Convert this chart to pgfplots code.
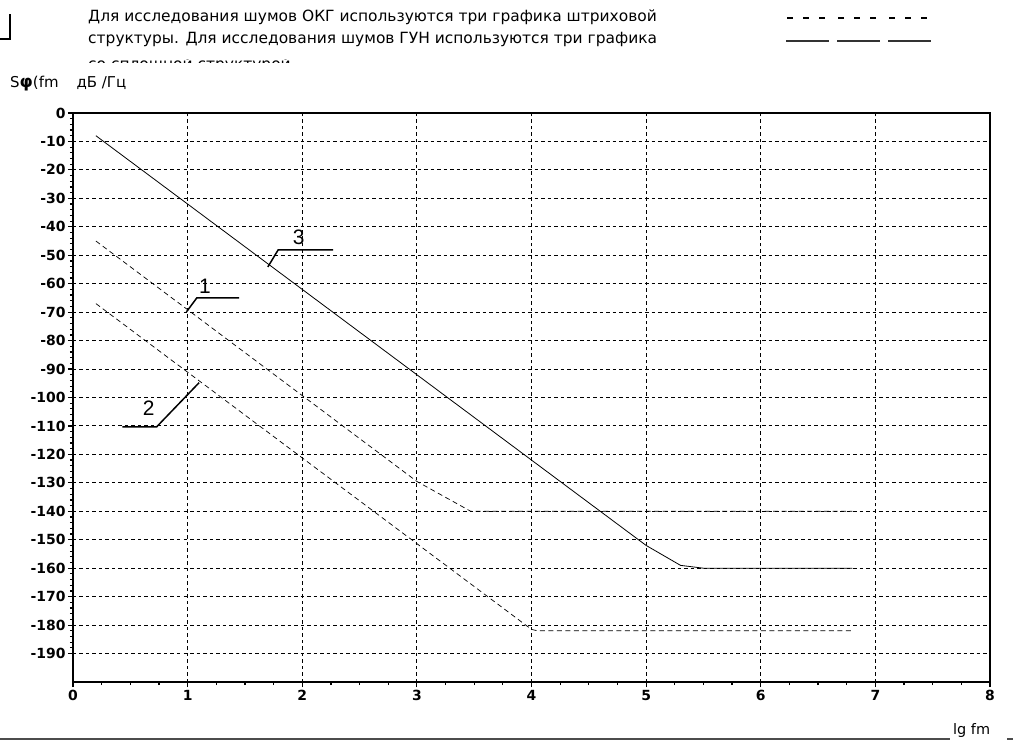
\documentclass[border=0pt]{standalone}
\usepackage{pgfplots}
\pgfplotsset{compat=1.18}
\usepackage{fontspec}
\setmainfont{DejaVu Sans}
\newfontfamily\lib{Liberation Sans}
\begin{document}
\begin{tikzpicture}
\useasboundingbox (-73bp,-71bp) rectangle (940bp,682bp);
\begin{axis}[
  at={(0,0)}, anchor=south west,
  scale only axis, width=917bp, height=569bp,
  xmin=0, xmax=8, ymin=-200, ymax=0,
  xtick={0,1,...,8}, ytick={-190,-180,...,0},
  minor x tick num=3, minor y tick num=4,
  xtick pos=bottom, ytick pos=left,
  grid=major,
  major grid style={black, line width=0.9bp, dash pattern=on 3.5bp off 3bp},
  axis line style={black, line width=1.6bp},
  tick align=outside,
  major tick length=5bp, minor tick length=3bp,
  tick style={black, line width=1.2bp},
  /pgf/number format/assume math mode=true,
  ticklabel style={font=\bfseries\fontsize{14}{14}\selectfont},
  yticklabel style={xshift=1bp},
  clip=false,
]
% curve 3 (solid)
\addplot[black, line width=0.8bp] coordinates {(0.2,-8) (5.0,-152) (5.3,-159) (5.5,-160) (6.8,-160)};
% curve 1 (dashed)
\addplot[black, line width=0.7bp, dash pattern=on 5bp off 3.5bp] coordinates {(0.2,-45) (3.0,-129.5) (3.47,-140) (6.8,-140)};
% curve 2 (dashed)
\addplot[black, line width=0.7bp, dash pattern=on 5bp off 3.5bp] coordinates {(0.2,-67) (4.0,-181.5) (4.05,-182) (6.8,-182)};
% callouts
\addplot[black, line width=1.5bp] coordinates {(1.70,-54.1) (1.79,-48.1) (2.27,-48.1)};
\addplot[black, line width=1.5bp] coordinates {(0.99,-69.9) (1.08,-65) (1.45,-65)};
\addplot[black, line width=1.5bp] coordinates {(1.10,-94.8) (0.73,-110.3) (0.43,-110.3)};
\node[font=\lib\fontsize{21}{21}\selectfont] at (axis cs:1.97,-43.8) {3};
\node[font=\lib\fontsize{21}{21}\selectfont] at (axis cs:1.15,-61) {1};
\node[font=\lib\fontsize{21}{21}\selectfont] at (axis cs:0.66,-103.8) {2};
\end{axis}
% top text
\node[anchor=base west, inner sep=0pt, font=\fontsize{15.5}{15.5}\selectfont] at (15bp,660bp) {Для исследования шумов ОКГ используются три графика штриховой};
\node[anchor=base west, inner sep=0pt, font=\fontsize{15.5}{15.5}\selectfont] at (15bp,638bp) {структуры. Для исследования шумов ГУН используются три графика};
\begin{scope}
\clip (10bp,619bp) rectangle (700bp,622bp);
\node[anchor=base west, inner sep=0pt, font=\fontsize{15.5}{15.5}\selectfont] at (15bp,612bp) {со сплошной структурой};
\end{scope}
% bracket
\draw[black, line width=1.8bp] (-73bp,643bp) -- (-63bp,643bp) -- (-63bp,668bp);
% y label
\node[anchor=base west, inner sep=0pt, font=\fontsize{15}{15}\selectfont] at (-63bp,594bp) {S\textbf{\fontsize{17}{17}\selectfont φ}(fm\hspace{18bp}дБ /Гц};
% legend
\draw[black, line width=2bp, dash pattern=on 6bp off 10bp] (714bp,664bp) -- (756bp,664bp);
\draw[black, line width=2bp, dash pattern=on 6bp off 10bp] (765bp,664bp) -- (807bp,664bp);
\draw[black, line width=2bp, dash pattern=on 6bp off 10bp] (816bp,664bp) -- (858bp,664bp);
\draw[black!80, line width=1.5bp] (713bp,641bp) -- (756bp,641bp);
\draw[black!80, line width=1.5bp] (764bp,641bp) -- (807bp,641bp);
\draw[black!80, line width=1.5bp] (815bp,641bp) -- (858bp,641bp);
% bottom
\draw[black!70, line width=1.8bp] (-73bp,-57bp) -- (877bp,-57bp);
\draw[black!70, line width=1.8bp] (934bp,-57bp) -- (940bp,-57bp);
\node[anchor=base west, inner sep=0pt, font=\fontsize{14.5}{14.5}\selectfont] at (880bp,-52bp) {lg fm};
\end{tikzpicture}
\end{document}
